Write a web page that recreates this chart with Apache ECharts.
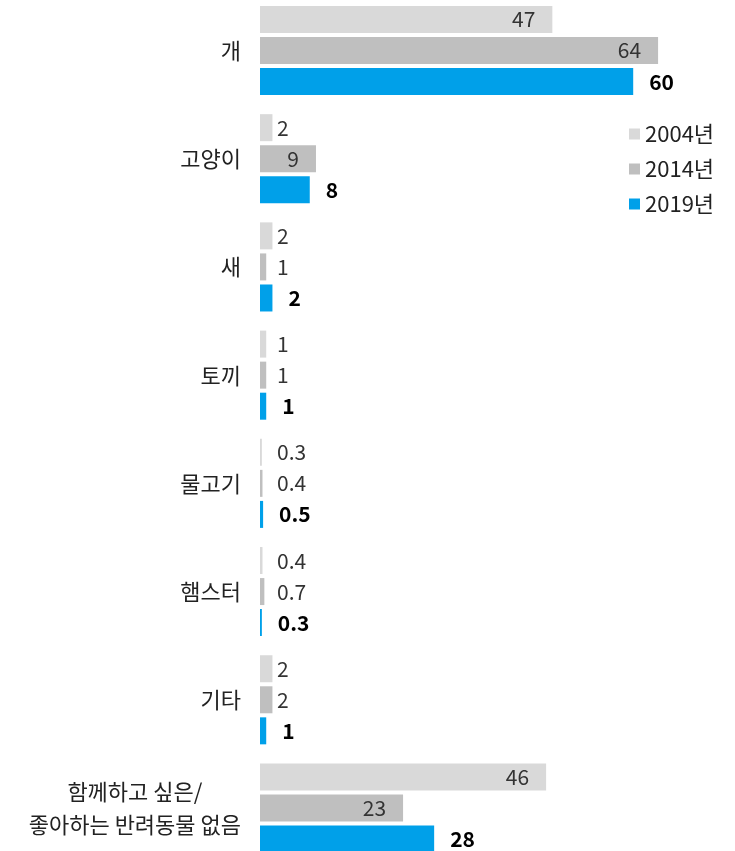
<!DOCTYPE html>
<html>
<head>
<meta charset="utf-8">
<script src="https://cdn.jsdelivr.net/npm/echarts@6/dist/echarts.min.js"></script>
<style>
  html, body { margin: 0; padding: 0; background: #fff; }
  #echart { width: 735px; height: 851px; }
</style>
</head>
<body>
<div id="echart"></div>
<script>
var categories = ['개', '고양이', '새', '토끼', '물고기', '햄스터', '기타', '함께하고 싶은/\n좋아하는 반려동물 없음'];
var seriesNames = ['2004년', '2014년', '2019년'];
var values2004 = [47, 2, 2, 1, 0.3, 0.4, 2, 46];
var values2014 = [64, 9, 1, 1, 0.4, 0.7, 2, 23];
var values2019 = [60, 8, 2, 1, 0.5, 0.3, 1, 28];
var colors = ['#d9d9d9', '#bfbfbf', '#00a0e9'];

var font = '"Noto Sans CJK KR", "Noto Sans", sans-serif';

try {
    var chart_el = document.getElementById('echart');
    var chart = echarts.init(chart_el);

    // grey series: label inside bar end when it fits, else just past the axis
    function greyData(vals) {
        return vals.map(function (v) {
            return {
                value: v,
                label: v >= 5
                    ? { position: 'insideRight', distance: 17 }
                    : { position: 'insideLeft', distance: 17 }
            };
        });
    }

    function greySeries(i, vals) {
        return {
            name: seriesNames[i],
            type: 'bar',
            barWidth: 27,
            barGap: '15%',
            itemStyle: { color: colors[i] },
            label: {
                show: true,
                color: '#333',
                fontSize: 21,
                fontFamily: font
            },
            data: greyData(vals)
        };
    }

    option = {
        animation: false,
        legend: {
            orient: 'vertical',
            left: 624,
            top: 118,
            itemWidth: 11,
            itemHeight: 11,
            itemGap: 13,
            icon: 'rect',
            textStyle: { fontSize: 22, color: '#222', fontFamily: font },
            data: seriesNames
        },
        // category points sit on the grid edges (boundaryGap false)
        grid: {
            left: 260,
            top: 50.5,
            width: 466.5,
            height: 757.5
        },
        xAxis: {
            type: 'value',
            min: 0,
            max: 75,
            show: false
        },
        yAxis: {
            type: 'category',
            inverse: true,
            boundaryGap: false,
            data: categories,
            axisLine: { show: false },
            axisTick: { show: false },
            splitLine: { show: false },
            axisLabel: {
                margin: 19,
                fontSize: 22,
                color: '#222',
                fontFamily: font,
                formatter: function (v) {
                    return v.split('\n').map(function (s) { return '{c|' + s + '}'; }).join('\n');
                },
                rich: {
                    c: { align: 'center', fontSize: 22, fontFamily: font, color: '#222', lineHeight: 33 }
                }
            }
        },
        series: [
            greySeries(0, values2004),
            greySeries(1, values2014),
            {
                name: seriesNames[2],
                type: 'bar',
                barWidth: 27,
                barGap: '15%',
                itemStyle: { color: colors[2] },
                label: {
                    show: true,
                    position: 'right',
                    distance: 16,
                    color: '#000',
                    fontWeight: 'bold',
                    fontSize: 21,
                    fontFamily: font
                },
                data: values2019
            }
        ]
    };
    chart.setOption(option);
} catch (error) {
    console.error(`Failed to draw chart`);
    console.error(error);
}
</script>
</body>
</html>
